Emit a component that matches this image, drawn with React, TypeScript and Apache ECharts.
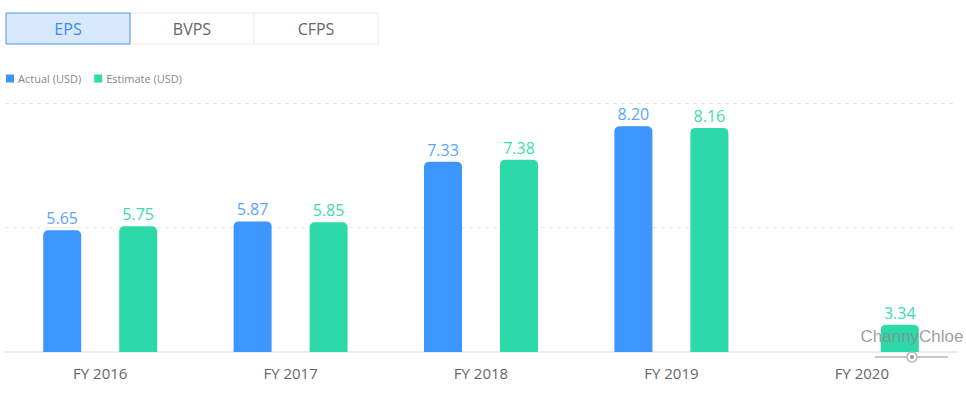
import React, { useEffect, useRef } from "react";
import * as echarts from "echarts";

const categories = ["FY 2016", "FY 2017", "FY 2018", "FY 2019", "FY 2020"];
const actual: (number | null)[] = [5.65, 5.87, 7.33, 8.2, null];
const estimate: (number | null)[] = [5.75, 5.85, 7.38, 8.16, 3.34];
const tabs = ["EPS", "BVPS", "CFPS"];
const seriesNames = ["Actual (USD)", "Estimate (USD)"];

const FONT = "'Open Sans', 'Noto Sans', sans-serif";

export default function App() {
  const ref = useRef<HTMLDivElement>(null);
  useEffect(() => {
    document.body.style.margin = "0";
    const chart = echarts.init(ref.current!, undefined, { renderer: "svg" });
    const tabGraphics: any[] = [];
    tabs.forEach((t, i) => {
      const x = 6 + i * 124;
      const active = i === 0;
      tabGraphics.push({
        type: "rect",
        shape: { x, y: 13, width: 124, height: 31 },
        style: {
          fill: active ? "#d8e9fd" : "#ffffff",
          stroke: active ? "#4a94ef" : "#ebebeb",
          lineWidth: 1,
        },
        z: active ? 11 : 10,
      });
      tabGraphics.push({
        type: "text",
        x: x + 62,
        y: 28.5,
        style: {
          text: t,
          fill: active ? "#3b8af0" : "#666666",
          font: `16px ${FONT}`,
          align: "center",
          verticalAlign: "middle",
        },
        z: 12,
      });
    });
    chart.setOption({
      animation: false,
      textStyle: { fontFamily: FONT },
      legend: {
        left: 1,
        top: 68,
        icon: "rect",
        itemWidth: 8,
        itemHeight: 8,
        itemGap: 13,
        textStyle: { fontSize: 11, color: "#888", fontFamily: FONT, padding: [0, 0, 0, -1] },
        data: seriesNames,
      },
      grid: { left: 5, right: 9, top: 103, bottom: 46, containLabel: false },
      xAxis: {
        type: "category",
        data: categories,
        axisLine: { lineStyle: { color: "#e8edf2", width: 2 } },
        axisTick: { show: false },
        axisLabel: { fontSize: 15, color: "#666", margin: 13, fontFamily: FONT },
      },
      yAxis: {
        type: "value",
        min: 2.67,
        max: 8.77,
        interval: 3.05,
        axisLabel: { show: false },
        axisLine: { show: false },
        axisTick: { show: false },
        splitLine: { lineStyle: { color: "#e6e6e6", type: [4, 4] } },
      },
      series: [
        {
          name: seriesNames[0],
          type: "bar",
          data: actual,
          barWidth: 38,
          barGap: "100%",
          itemStyle: { color: "#3d95ff", borderRadius: [5, 5, 0, 0] },
          label: {
            show: true,
            position: "top",
            distance: 4,
            fontSize: 16,
            color: "#5aa5ff",
            fontFamily: FONT,
            formatter: (p: any) => Number(p.value).toFixed(2),
          },
        },
        {
          name: seriesNames[1],
          type: "bar",
          data: estimate,
          barWidth: 38,
          barGap: "100%",
          itemStyle: { color: "#2bd9a9", borderRadius: [5, 5, 0, 0] },
          label: {
            show: true,
            position: "top",
            distance: 4,
            fontSize: 16,
            color: "#3ddcb0",
            fontFamily: FONT,
            formatter: (p: any) => Number(p.value).toFixed(2),
          },
        },
      ],
      graphic: [
        ...tabGraphics,
        {
          type: "text",
          x: 912,
          y: 336,
          z: 100,
          style: {
            text: "ChannyChloe",
            fill: "rgba(140,140,140,0.85)",
            font: "17px 'Liberation Sans', Arial, sans-serif",
            align: "center",
            verticalAlign: "middle",
          },
        },
        {
          type: "line",
          z: 100,
          shape: { x1: 875, y1: 357, x2: 948, y2: 357 },
          style: { stroke: "#c8c8c8", lineWidth: 2 },
        },
        {
          type: "circle",
          z: 101,
          shape: { cx: 912, cy: 357, r: 5 },
          style: { fill: "#ffffff", stroke: "#b5b5b5", lineWidth: 1.5 },
        },
        {
          type: "circle",
          z: 102,
          shape: { cx: 912, cy: 357, r: 2 },
          style: { fill: "#9a9a9a" },
        },
      ],
    });
    return () => chart.dispose();
  }, []);
  return <div ref={ref} style={{ width: 966, height: 398 }} />;
}
